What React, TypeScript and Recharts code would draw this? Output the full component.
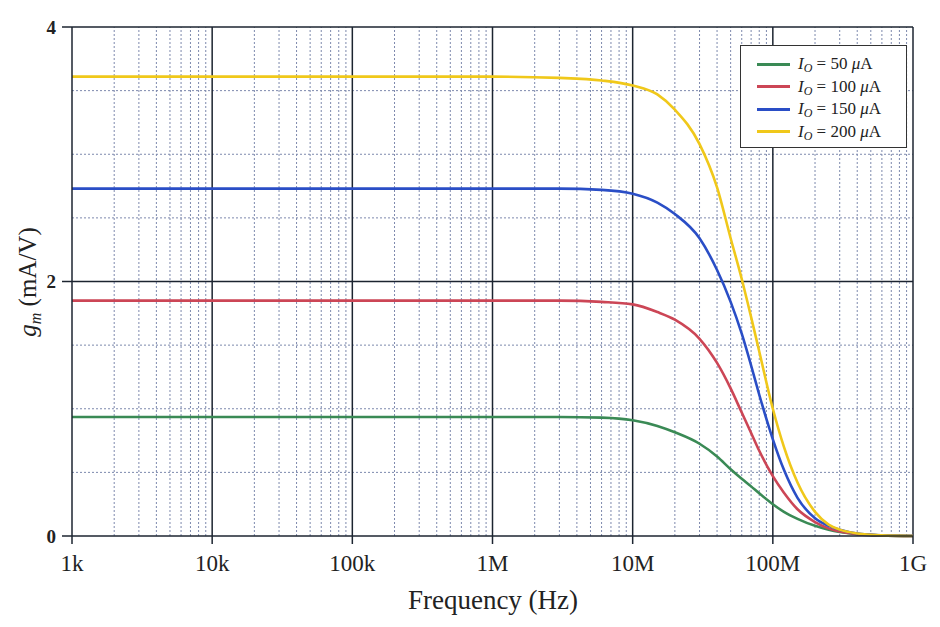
import React from "react";
import { LineChart, Line, XAxis, YAxis, ReferenceLine } from "recharts";

// frequency points (Hz)
const freq = [1e3, 1e6, 3e6, 6e6, 1e7, 1.5e7, 2e7, 3e7, 4e7, 5e7, 6e7, 7e7, 8e7, 1e8, 1.2e8, 1.5e8, 2e8, 2.5e8, 3e8, 4e8, 6e8, 1e9];

// gm in mA/V for each bias current
const gm50 = [0.935, 0.935, 0.935, 0.93, 0.91, 0.865, 0.815, 0.725, 0.625, 0.525, 0.45, 0.39, 0.335, 0.25, 0.19, 0.135, 0.08, 0.05, 0.032, 0.015, 0.004, 0];
const gm100 = [1.85, 1.85, 1.85, 1.84, 1.82, 1.76, 1.7, 1.55, 1.36, 1.16, 0.97, 0.81, 0.67, 0.47, 0.34, 0.21, 0.11, 0.06, 0.035, 0.015, 0.004, 0];
const gm150 = [2.73, 2.73, 2.73, 2.72, 2.69, 2.62, 2.53, 2.34, 2.09, 1.84, 1.59, 1.34, 1.11, 0.76, 0.52, 0.3, 0.14, 0.08, 0.05, 0.02, 0.005, 0];
const gm200 = [3.61, 3.61, 3.6, 3.58, 3.54, 3.47, 3.35, 3.08, 2.74, 2.34, 2.02, 1.72, 1.45, 1.0, 0.7, 0.42, 0.19, 0.09, 0.05, 0.02, 0.005, 0];

const seriesKeys = ["gm50", "gm100", "gm150", "gm200"];
const seriesLabels = ["50", "100", "150", "200"];
const seriesColors = ["#3a8a55", "#cc4656", "#2a4ec6", "#f0c81a"];

const xTicks = [1e3, 1e4, 1e5, 1e6, 1e7, 1e8, 1e9];
const xTickLabels = ["1k", "10k", "100k", "1M", "10M", "100M", "1G"];
const yTicks = [0, 2, 4];
const yMinor = [0.5, 1, 1.5, 2.5, 3, 3.5];

const xMinor = xTicks.slice(0, -1).flatMap((d) => [2, 3, 4, 5, 6, 7, 8, 9].map((k) => k * d));

const data = freq.map((f, i) => ({
  f,
  gm50: gm50[i],
  gm100: gm100[i],
  gm150: gm150[i],
  gm200: gm200[i],
}));

const serif = "'Liberation Serif', 'Times New Roman', serif";
const major = "#1c2430";
const minor = "#7d89ad";

const LegendBox = () => (
  <div
    style={{
      position: "absolute",
      left: 740,
      top: 45,
      width: 167,
      height: 103,
      boxSizing: "border-box",
      border: "1.5px solid #333",
      background: "#fff",
      padding: "7px 0 0 16px",
      fontFamily: serif,
      fontSize: 17,
      color: "#222",
    }}
  >
    {seriesKeys.map((k, i) => (
      <div key={k} style={{ display: "flex", alignItems: "center", height: 22.5 }}>
        <span style={{ display: "inline-block", width: 33, height: 3, background: seriesColors[i], marginRight: 8 }} />
        <span style={{ lineHeight: "16px" }}>
          <i>I</i>
          <sub style={{ fontSize: 12, lineHeight: 0, verticalAlign: "-3px" }}>
            <i>O</i>
          </sub>
          {" = " + seriesLabels[i] + " "}
          <i>μ</i>A
        </span>
      </div>
    ))}
  </div>
);

export default function App() {
  return (
    <div style={{ position: "absolute", left: 0, top: 0, width: 940, height: 627, background: "#fff" }}>
      <LineChart width={940} height={627} data={data} margin={{ top: 27, right: 27, left: 0, bottom: 0 }}>
        <XAxis
          dataKey="f"
          type="number"
          scale="log"
          domain={[1e3, 1e9]}
          ticks={xTicks}
          tickFormatter={(v: number) => xTickLabels[xTicks.indexOf(v)] ?? ""}
          height={91}
          tickSize={8}
          tickMargin={11}
          stroke={major}
          strokeWidth={1.5}
          tick={{ fontFamily: serif, fontSize: 23, fill: "#222" }}
          allowDataOverflow
        />
        <YAxis
          type="number"
          domain={[0, 4]}
          ticks={yTicks}
          width={72}
          tickSize={10}
          tickMargin={6}
          stroke={major}
          strokeWidth={1.5}
          tick={{ fontFamily: serif, fontSize: 19, fontWeight: "bold", fill: "#222" }}
        />
        {xMinor.map((v) => (
          <ReferenceLine key={"xm" + v} x={v} stroke={minor} strokeWidth={1} strokeDasharray="2 2" />
        ))}
        {yMinor.map((v) => (
          <ReferenceLine key={"ym" + v} y={v} stroke={minor} strokeWidth={1} strokeDasharray="2 2" />
        ))}
        {xTicks.slice(1).map((v) => (
          <ReferenceLine key={"xM" + v} x={v} stroke={major} strokeWidth={1.5} />
        ))}
        {yTicks.slice(1).map((v) => (
          <ReferenceLine key={"yM" + v} y={v} stroke={major} strokeWidth={1.5} />
        ))}
        {seriesKeys.map((k, i) => (
          <Line
            key={k}
            dataKey={k}
            type="monotone"
            stroke={seriesColors[i]}
            strokeWidth={2.6}
            dot={false}
            isAnimationActive={false}
          />
        ))}
        <text x={493} y={609} textAnchor="middle" fontFamily={serif} fontSize={27} fill="#222">
          Frequency (Hz)
        </text>
        <text
          x={36}
          y={282}
          textAnchor="middle"
          fontFamily={serif}
          fontSize={25}
          fill="#222"
          transform="rotate(-90, 36, 282)"
        >
          <tspan fontStyle="italic">g</tspan>
          <tspan fontStyle="italic" fontSize={16} dy={5}>m</tspan>
          <tspan dy={-5}> (mA/V)</tspan>
        </text>
      </LineChart>
      <LegendBox />
    </div>
  );
}
